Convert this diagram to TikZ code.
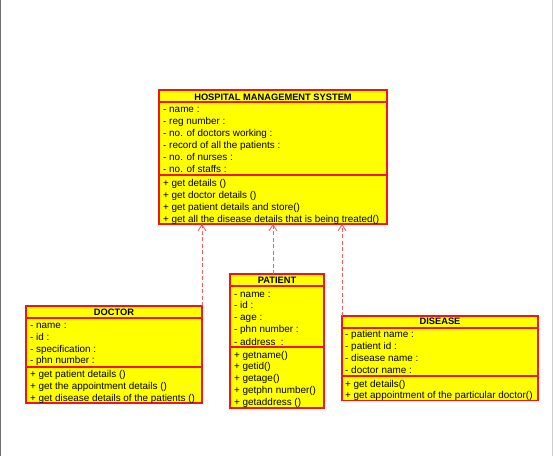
\documentclass[tikz,border=0pt]{standalone}
\usepackage{fontspec}
\setmainfont{Liberation Sans}
\usetikzlibrary{arrows.meta}
\definecolor{umlred}{RGB}{245,20,20}
\definecolor{umlyellow}{RGB}{255,255,0}
\definecolor{deplink}{RGB}{240,95,95}
\definecolor{frameL}{RGB}{110,110,110}
\definecolor{frameR}{RGB}{205,205,205}
\begin{document}
\begin{tikzpicture}[x=1pt,y=-1pt,
  classbox/.style={draw=umlred, fill=umlyellow, line width=1.1pt, inner sep=0pt, outer sep=0pt, anchor=north west},
  ttl/.style={font=\fontsize{9.3}{10}\selectfont\bfseries, inner sep=0pt, anchor=base},
  item/.style={font=\fontsize{9.9}{10}\selectfont, inner sep=0pt, anchor=base west},
  sep/.style={draw=umlred, line width=1.1pt},
  dep/.style={draw=deplink, line width=0.9pt, dash pattern=on 4pt off 2.5pt,
    -{Straight Barb[length=6pt,width=8pt,line width=0.9pt]}}]
\useasboundingbox (0,0) rectangle (553,456);
\fill[white] (0,0) rectangle (553,456);
\draw[frameL, line width=1.2pt] (0.6,0) -- (0.6,456);
\draw[frameR, line width=1pt] (552,0) -- (552,456);

% ---------------- HOSPITAL MANAGEMENT SYSTEM
\node[classbox, minimum width=228pt, minimum height=134pt] (hms) at (159,90) {};
\draw[sep] ([yshift=-12pt]hms.north west) -- ([yshift=-12pt]hms.north east);
\draw[sep] ([yshift=-85pt]hms.north west) -- ([yshift=-85pt]hms.north east);
\node[ttl] (hmsT) at (273,100) {HOSPITAL MANAGEMENT SYSTEM};
\node[item] (h1) at (163,112.5) {- name :};
\node[item] (h2) at (163,124.5) {- reg number :};
\node[item] (h3) at (163,136.5) {- no. of doctors working :};
\node[item] (h4) at (163,148.5) {- record of all the patients :};
\node[item] (h5) at (163,160.5) {- no. of nurses :};
\node[item] (h6) at (163,172.5) {- no. of staffs :};
\node[item] (h7) at (163,186) {+ get details ()};
\node[item] (h8) at (163,198) {+ get doctor details ()};
\node[item] (h9) at (163,210) {+ get patient details and store()};
\node[item] (h10) at (163,222) {+ get all the disease details that is being treated()};

% ---------------- DOCTOR
\node[classbox, minimum width=176pt, minimum height=97pt] (doctor) at (26,306) {};
\draw[sep] ([yshift=-12pt]doctor.north west) -- ([yshift=-12pt]doctor.north east);
\draw[sep] ([yshift=-61pt]doctor.north west) -- ([yshift=-61pt]doctor.north east);
\node[ttl] (doctorT) at (114,315.5) {DOCTOR};
\node[item] (d1) at (30,328.5) {- name :};
\node[item] (d2) at (30,340.2) {- id :};
\node[item] (d3) at (30,352) {- specification :};
\node[item] (d4) at (30,363.5) {- phn number :};
\node[item] (d5) at (30,377.8) {+ get patient details ()};
\node[item] (d6) at (30,389.4) {+ get the appointment details ()};
\node[item] (d7) at (30,401) {+ get disease details of the patients ()};

% ---------------- PATIENT
\node[classbox, minimum width=94pt, minimum height=134pt] (patient) at (230,274) {};
\draw[sep] ([yshift=-12pt]patient.north west) -- ([yshift=-12pt]patient.north east);
\draw[sep] ([yshift=-73pt]patient.north west) -- ([yshift=-73pt]patient.north east);
\node[ttl] (patientT) at (277,283.8) {PATIENT};
\node[item] (p1) at (234,297) {- name :};
\node[item] (p2) at (234,308.8) {- id :};
\node[item] (p3) at (234,320.8) {- age :};
\node[item] (p4) at (234,332.8) {- phn number :};
\node[item] (p5) at (234,345) {- address\ \ :};
\node[item] (p6) at (234,358) {+ getname()};
\node[item] (p7) at (234,369.5) {+ getid()};
\node[item] (p8) at (234,381.5) {+ getage()};
\node[item] (p9) at (234,393.5) {+ getphn number()};
\node[item] (p10) at (234,405) {+ getaddress ()};

% ---------------- DISEASE
\node[classbox, minimum width=196pt, minimum height=84.5pt] (disease) at (342,316) {};
\draw[sep] ([yshift=-12pt]disease.north west) -- ([yshift=-12pt]disease.north east);
\draw[sep] ([yshift=-60pt]disease.north west) -- ([yshift=-60pt]disease.north east);
\node[ttl] (diseaseT) at (440,324.8) {DISEASE};
\node[item] (s1) at (345,337.5) {- patient name :};
\node[item] (s2) at (345,349.2) {- patient id :};
\node[item] (s3) at (345,361.2) {- disease name :};
\node[item] (s4) at (345,373.5) {- doctor name :};
\node[item] (s5) at (345,387) {+ get details()};
\node[item] (s6) at (345,398.6) {+ get appointment of the particular doctor()};

% ---------------- dependencies
\draw[dep] (doctor.north east) -- (doctor.north east |- hms.south);
\draw[dep] ([xshift=-4pt]patient.north) -- ([xshift=-4pt]patient.north |- hms.south);
\draw[dep] (disease.north west) -- (disease.north west |- hms.south);
\end{tikzpicture}
\end{document}
